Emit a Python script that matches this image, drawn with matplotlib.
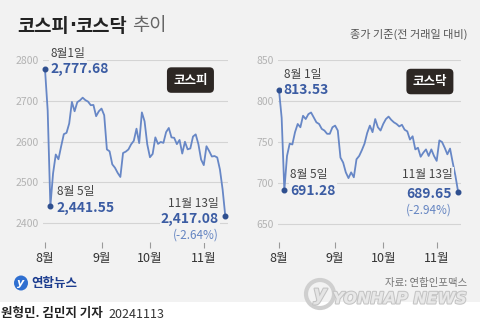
import matplotlib.pyplot as plt
from matplotlib.patches import Rectangle, Ellipse
import matplotlib.patheffects as pe

plt.rcParams['font.family'] = ['Noto Sans CJK KR', 'DejaVu Sans']

# trading days 2024-08-01 .. 2024-11-13, closing values
kospi = [2777.68, 2676.19, 2441.55, 2522.15, 2568.41, 2556.73, 2588.43, 2618.30, 2621.50, 2644.50,
         2697.23, 2674.36, 2696.63, 2701.13, 2707.67, 2701.69, 2698.01, 2689.25, 2689.83, 2662.28,
         2674.31,
         2681.00, 2664.63, 2580.80, 2576.20, 2544.28, 2535.93, 2523.43, 2513.37, 2572.09, 2575.41,
         2580.80, 2593.37, 2602.01, 2631.68, 2596.32, 2671.57, 2649.78, 2593.27,
         2561.69, 2569.71, 2610.38, 2594.36, 2599.16, 2596.91, 2623.22, 2633.45, 2610.36, 2609.30,
         2593.82, 2604.06, 2570.70, 2599.62, 2581.03, 2583.27, 2612.43, 2617.80, 2593.79, 2556.15,
         2542.36, 2588.65, 2576.88, 2563.51, 2564.63, 2561.15, 2531.66, 2482.57, 2417.08]
kosdaq = [813.53, 779.33, 691.28, 733, 748, 747, 762, 772, 768, 782,
          778, 784, 786, 780, 774, 772, 766, 764, 760, 760,
          768,
          770, 764, 731, 725, 713, 706, 713, 707, 729, 733,
          740, 748, 761, 770, 762, 778, 768, 764,
          772, 778, 781, 777, 774, 772, 769, 771, 765, 763,
          753, 757, 741, 743, 732, 737, 741, 733, 741, 733,
          727, 752, 750, 743, 735, 742, 725, 709, 689.65]
month_labels = ['8월', '9월', '10월', '11월']
month_idx = [0, 21, 39, 59]
kospi_ticks = [2400, 2500, 2600, 2700, 2800]
kosdaq_ticks = [650, 700, 750, 800, 850]
kospi_text = ['8월1일', '2,777.68', '8월 5일', '2,441.55', '11월 13일', '2,417.08', '(-2.64%)']
kosdaq_text = ['8월 1일', '813.53', '8월 5일', '691.28', '11월 13일', '689.65', '(-2.94%)']
AUG5 = 2

W, H = 480, 327
BG = '#f2f2f2'
LINE = '#6787c6'
DOT = '#2f4f8f'
VAL = '#3b5ca3'

fig = plt.figure(figsize=(4.8, 3.27), dpi=100, facecolor=BG)
fig.patches.append(Rectangle((0, 0), 1, 25 / H, transform=fig.transFigure,
                             fc='white', ec='none', zorder=0))


def px_axes(x0, x1, ytop, ybot):
    return fig.add_axes([x0 / W, 1 - ybot / H, (x1 - x0) / W, (ybot - ytop) / H])


def note(ax, txt, xy, off, ha, color, size, weight='normal'):
    ax.annotate(txt, xy=xy, xytext=off, textcoords='offset points', ha=ha, va='center',
                color=color, fontsize=size, fontweight=weight, zorder=5,
                bbox=dict(fc=BG, ec='none', pad=1))


def panel(ax, vals, yticks, ylim, xlim, ypad, texts, name, name_xy, offs):
    x = range(len(vals))
    last = len(vals) - 1
    ax.set_facecolor('none')
    ax.plot(x, vals, color=LINE, lw=1.3, zorder=3, solid_joinstyle='round')
    ax.plot([0, AUG5, last], [vals[0], vals[AUG5], vals[last]], 'o', color=DOT, ms=3.3,
            zorder=4, clip_on=False)
    ax.set_xlim(xlim)
    ax.set_ylim(ylim)
    ax.set_yticks(yticks)
    ax.yaxis.grid(True, color='#d4d4d4', lw=0.8)
    ax.set_axisbelow(True)
    for s in ax.spines.values():
        s.set_visible(False)
    ax.tick_params(axis='y', length=0, pad=ypad, labelsize=7.5, labelcolor='#b3b3b3')
    ax.set_xticks(month_idx, month_labels)
    ax.tick_params(axis='x', length=4.3, width=0.8, color='#9a9a9a', pad=2.5,
                   labelsize=9, labelcolor='#333333')

    p0, p5, pe_ = (0, vals[0]), (AUG5, vals[AUG5]), (last, vals[last])
    note(ax, texts[0], p0, offs[0], 'left', '#444444', 8.5)
    note(ax, texts[1], p0, offs[1], 'left', VAL, 10, 'bold')
    note(ax, texts[2], p5, offs[2], 'left', '#444444', 8.5)
    note(ax, texts[3], p5, offs[3], 'left', VAL, 10, 'bold')
    note(ax, texts[4], pe_, offs[4], 'right', '#444444', 8.5)
    note(ax, texts[5], pe_, offs[5], 'right', VAL, 10, 'bold')
    note(ax, texts[6], pe_, offs[6], 'right', '#6585c2', 8.5)

    ax.text(name_xy[0], name_xy[1], name, transform=ax.transAxes, ha='center', va='center',
            color='white', fontsize=9, fontweight='bold', zorder=6,
            bbox=dict(boxstyle='round,pad=0.5,rounding_size=0.35', fc='#2d2724', ec='none'))


ax1 = px_axes(43, 228, 60, 242.4)
panel(ax1, kospi, kospi_ticks, (2353, 2800), (-0.74, 68.0), 3, kospi_text, '코스피',
      (0.797, 0.89),
      [(3.8, 11.5), (3.6, 0), (4.7, 10.5), (4.7, -1.5), (-4.5, 9.5), (-4.5, -2.2), (-4.8, -13.8)])

ax2 = px_axes(278, 461, 60, 242.4)
panel(ax2, kosdaq, kosdaq_ticks, (627.6, 850), (-0.37, 68.1), 3, kosdaq_text, '코스닥',
      (0.83, 0.882),
      [(3.4, 11), (3.0, 0), (4.0, 11.5), (4.0, -0.5), (-3.6, 12), (-4.3, -1.8), (-4.3, -13.2)])

# title, pieces laid side by side so the middle dot stays narrow
renderer = fig.canvas.get_renderer()
tx = 17
for piece, fam, wt, col, gap in [('코스피', None, 'bold', '#222222', 0),
                                 ('·', 'DejaVu Sans', 'bold', '#222222', 0),
                                 ('코스닥', None, 'bold', '#222222', 5),
                                 ('추이', None, 'normal', '#666666', 0)]:
    kw = {'family': fam} if fam else {}
    t = fig.text(tx / W, 1 - 26 / H, piece, fontsize=13.5, fontweight=wt, color=col,
                 va='center', **kw)
    tx += t.get_window_extent(renderer).width + gap

fig.text(467 / W, 1 - 34 / H, '종가 기준(전 거래일 대비)', fontsize=8, color='#555555',
         ha='right', va='center')

# footer
fig.patches.append(Ellipse((21 / W, 1 - 283 / H), 14 / W, 15 / H, transform=fig.transFigure,
                           fc='#2f6fd0', ec='none'))
fig.text(21 / W, 1 - 283 / H, 'y', family='DejaVu Sans', style='italic', fontweight='bold',
         color='white', fontsize=8, ha='center', va='center')
fig.text(31 / W, 1 - 283 / H, '연합뉴스', fontsize=9, fontweight='bold', color='#1d3d8f',
         va='center')
fig.text(467 / W, 1 - 283 / H, '자료: 연합인포맥스', fontsize=7.5, color='#777777',
         ha='right', va='center')

fig.patches.append(Ellipse((320 / W, 1 - 294 / H), 28 / W, 28 / H, transform=fig.transFigure,
                           fc='none', ec='#cfcfcf', lw=3, zorder=2))
fig.text(320 / W, 1 - 294 / H, 'y', family='DejaVu Sans', style='italic', fontweight='bold',
         color='#e4e4e4', fontsize=15, ha='center', va='center',
         path_effects=[pe.withStroke(linewidth=1.5, foreground='#c2c2c2')])
fig.text(467 / W, 1 - 299 / H, 'YONHAP NEWS', family='DejaVu Sans', style='italic',
         fontweight='heavy', color='#e8e8e8', fontsize=11.5, ha='right', va='center',
         path_effects=[pe.withStroke(linewidth=1.5, foreground='#c4c4c4')])

fig.text(1 / W, 1 - 314 / H, '원형민. 김민지 기자', fontsize=9, fontweight='bold', color='#222222',
         va='center')
fig.text(108 / W, 1 - 314 / H, '20241113', fontsize=9, color='#333333', va='center')

fig.savefig('out.png', dpi=100, facecolor=fig.get_facecolor())
